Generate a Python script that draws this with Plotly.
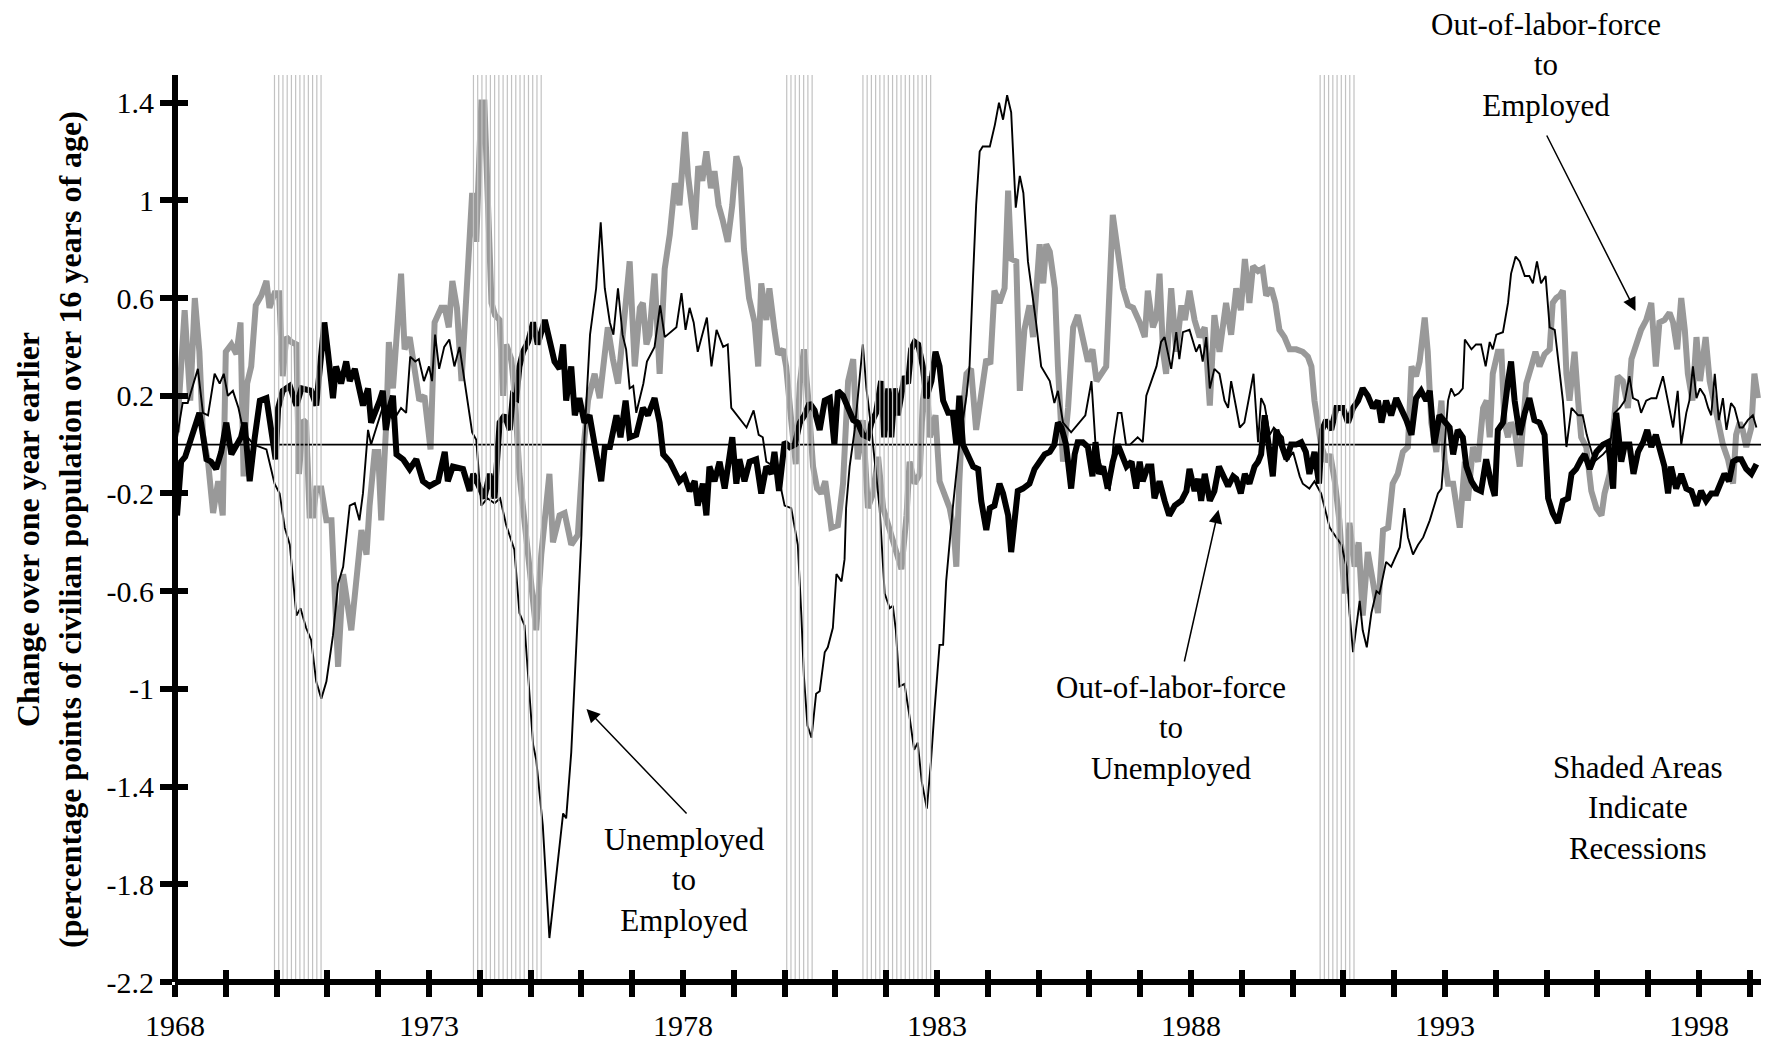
import plotly.graph_objects as go

# Year-over-year change in labour-market flows, percentage points of the
# civilian population 16+. Times are decimal years (mid-month).

# Unemployed -> Employed (thin black)
ue_t = [1968.04, 1968.15, 1968.25, 1968.45, 1968.55, 1968.65, 1968.78, 1968.88, 1968.96, 1969.04,
        1969.14, 1969.25, 1969.35, 1969.55, 1969.80, 1969.96, 1970.06, 1970.16, 1970.26, 1970.39,
        1970.47, 1970.58, 1970.68, 1970.78, 1970.88, 1970.98, 1971.11, 1971.21, 1971.31, 1971.44,
        1971.54, 1971.63, 1971.70, 1971.80, 1971.86, 1971.96, 1972.10, 1972.30, 1972.45, 1972.55,
        1972.63, 1972.73, 1972.80, 1972.90, 1973.00, 1973.06, 1973.12, 1973.20, 1973.30, 1973.40,
        1973.50, 1973.60, 1973.75, 1973.85, 1973.93, 1974.03, 1974.15, 1974.29, 1974.40, 1974.52,
        1974.68, 1974.78, 1974.88, 1975.05, 1975.11, 1975.24, 1975.37, 1975.64, 1975.70, 1975.80,
        1975.93, 1976.00, 1976.06, 1976.17, 1976.29, 1976.38, 1976.46, 1976.56, 1976.63, 1976.72,
        1976.81, 1976.88, 1976.95, 1977.02, 1977.08, 1977.22, 1977.29, 1977.44, 1977.55, 1977.64,
        1977.87, 1977.97, 1978.05, 1978.13, 1978.21, 1978.29, 1978.47, 1978.56, 1978.66, 1978.79,
        1978.88, 1978.95, 1979.25, 1979.39, 1979.49, 1979.57, 1979.64, 1979.80, 1979.90, 1980.00,
        1980.13, 1980.26, 1980.33, 1980.38, 1980.45, 1980.53, 1980.62, 1980.69, 1980.79, 1980.85,
        1980.95, 1981.02, 1981.12, 1981.18, 1981.21, 1981.28, 1981.38, 1981.46, 1981.54, 1981.61,
        1981.71, 1981.80, 1981.87, 1981.97, 1982.07, 1982.13, 1982.19, 1982.26, 1982.36, 1982.45,
        1982.55, 1982.62, 1982.70, 1982.80, 1982.88, 1982.95, 1983.05, 1983.12, 1983.18, 1983.31,
        1983.44, 1983.58, 1983.64, 1983.71, 1983.77, 1983.84, 1983.90, 1984.04, 1984.14, 1984.22,
        1984.30, 1984.38, 1984.46, 1984.55, 1984.63, 1984.70, 1984.79, 1984.95, 1985.05, 1985.22,
        1985.31, 1985.38, 1985.48, 1985.64, 1985.81, 1985.92, 1986.04, 1986.12, 1986.22, 1986.32,
        1986.40, 1986.48, 1986.56, 1986.63, 1986.72, 1986.80, 1986.95, 1987.05, 1987.12, 1987.22,
        1987.32, 1987.41, 1987.48, 1987.55, 1987.61, 1987.71, 1987.77, 1987.84, 1987.97, 1988.10,
        1988.17, 1988.23, 1988.30, 1988.37, 1988.46, 1988.56, 1988.66, 1988.73, 1988.79, 1988.89,
        1988.96, 1989.05, 1989.15, 1989.23, 1989.32, 1989.38, 1989.45, 1989.55, 1989.63, 1989.81,
        1989.88, 1990.01, 1990.14, 1990.20, 1990.33, 1990.43, 1990.56, 1990.66, 1990.73, 1990.86,
        1990.96, 1991.06, 1991.12, 1991.19, 1991.25, 1991.32, 1991.38, 1991.46, 1991.55, 1991.65,
        1991.71, 1991.84, 1991.94, 1992.11, 1992.20, 1992.27, 1992.37, 1992.47, 1992.57, 1992.70,
        1992.86, 1992.93, 1992.99, 1993.06, 1993.12, 1993.19, 1993.27, 1993.35, 1993.39, 1993.52,
        1993.61, 1993.71, 1993.80, 1993.88, 1993.94, 1994.01, 1994.14, 1994.24, 1994.30, 1994.39,
        1994.47, 1994.57, 1994.66, 1994.73, 1994.81, 1994.89, 1994.98, 1995.06, 1995.16, 1995.26,
        1995.32, 1995.39, 1995.49, 1995.62, 1995.71, 1995.79, 1995.94, 1996.11, 1996.24, 1996.34,
        1996.44, 1996.54, 1996.63, 1996.70, 1996.80, 1996.86, 1996.96, 1997.06, 1997.16, 1997.29,
        1997.39, 1997.49, 1997.58, 1997.65, 1997.75, 1997.81, 1997.88, 1997.95, 1998.02, 1998.11,
        1998.18, 1998.24, 1998.31, 1998.39, 1998.47, 1998.54, 1998.63, 1998.70, 1998.80, 1998.86,
        1998.96, 1999.06, 1999.13]
ue_v = [0.03, 0.17, 0.17, 0.31, 0.13, 0.12, 0.29, 0.25, 0.29, 0.20,
        0.22, 0.15, 0.05, 0.00, -0.02, -0.16, -0.20, -0.34, -0.41, -0.70,
        -0.67, -0.75, -0.80, -0.97, -1.04, -0.97, -0.78, -0.57, -0.50, -0.25,
        -0.24, -0.31, -0.20, 0.06, 0.00, 0.07, 0.16, 0.10, 0.15, 0.13,
        0.36, 0.34, 0.35, 0.26, 0.32, 0.26, 0.45, 0.31, 0.40, 0.43,
        0.32, 0.40, 0.20, 0.05, 0.02, -0.25, -0.22, -0.24, -0.22, -0.33,
        -0.43, -0.69, -0.74, -1.23, -1.29, -1.56, -2.02, -1.51, -1.53, -1.26,
        -0.69, -0.37, 0.03, 0.45, 0.64, 0.91, 0.64, 0.50, 0.45, 0.64,
        0.45, 0.39, 0.23, 0.24, 0.13, 0.25, 0.34, 0.40, 0.57, 0.44,
        0.48, 0.62, 0.47, 0.56, 0.50, 0.38, 0.52, 0.32, 0.47, 0.40,
        0.41, 0.15, 0.07, 0.14, 0.04, 0.03, -0.07, -0.09, -0.15, -0.25,
        -0.26, -0.41, -0.70, -0.95, -1.15, -1.20, -1.02, -1.01, -0.85, -0.83,
        -0.75, -0.53, -0.56, -0.47, -0.26, -0.09, 0.06, 0.23, 0.41, 0.23,
        0.06, -0.12, -0.26, -0.61, -0.67, -0.66, -0.76, -0.99, -0.98, -1.10,
        -1.25, -1.22, -1.38, -1.49, -1.30, -1.09, -0.82, -0.82, -0.56, -0.26,
        0.00, 0.20, 0.32, 0.69, 0.98, 1.20, 1.22, 1.22, 1.31, 1.40,
        1.33, 1.43, 1.36, 0.97, 1.10, 1.03, 0.75, 0.50, 0.32, 0.26,
        0.17, 0.22, 0.09, 0.05, 0.09, 0.12, 0.26, 0.00, -0.08, -0.15,
        -0.19, 0.02, 0.13, 0.13, 0.00, 0.00, 0.03, 0.01, 0.20, 0.26,
        0.32, 0.42, 0.44, 0.37, 0.31, 0.46, 0.35, 0.46, 0.47, 0.38,
        0.41, 0.34, 0.44, 0.23, 0.31, 0.29, 0.18, 0.15, 0.26, 0.15,
        0.07, 0.09, 0.20, 0.29, 0.01, 0.19, 0.16, 0.04, 0.07, 0.03,
        -0.07, -0.03, -0.13, -0.16, -0.18, -0.15, -0.20, -0.29, -0.34, -0.38,
        -0.41, -0.50, -0.69, -0.85, -0.75, -0.64, -0.76, -0.83, -0.69, -0.60,
        -0.61, -0.48, -0.50, -0.42, -0.26, -0.38, -0.45, -0.41, -0.38, -0.31,
        -0.20, -0.18, -0.01, 0.18, 0.23, 0.20, 0.21, 0.23, 0.43, 0.39,
        0.41, 0.41, 0.32, 0.42, 0.39, 0.45, 0.46, 0.58, 0.70, 0.77,
        0.75, 0.69, 0.69, 0.66, 0.75, 0.66, 0.69, 0.48, 0.47, 0.29,
        0.18, -0.01, 0.15, 0.12, 0.12, 0.04, -0.07, -0.04, -0.01, 0.13,
        0.15, 0.18, 0.28, 0.19, 0.18, 0.13, 0.18, 0.19, 0.19, 0.28,
        0.18, 0.07, 0.22, 0.00, 0.13, 0.18, 0.32, 0.19, 0.23, 0.20,
        0.15, 0.12, 0.29, 0.10, 0.19, 0.06, 0.17, 0.15, 0.07, 0.07,
        0.10, 0.12, 0.07]

# Out-of-labor-force -> Unemployed (thick black)
ou_t = [1968.04, 1968.12, 1968.20, 1968.32, 1968.48, 1968.55, 1968.62, 1968.71, 1968.81, 1968.91,
        1969.01, 1969.11, 1969.21, 1969.30, 1969.37, 1969.47, 1969.57, 1969.67, 1969.80, 1969.90,
        1969.98, 1970.03, 1970.12, 1970.26, 1970.39, 1970.49, 1970.68, 1970.78, 1970.88, 1970.94,
        1971.01, 1971.11, 1971.17, 1971.27, 1971.37, 1971.44, 1971.54, 1971.63, 1971.70, 1971.80,
        1971.86, 1972.03, 1972.09, 1972.15, 1972.22, 1972.29, 1972.36, 1972.49, 1972.62, 1972.75,
        1972.88, 1973.01, 1973.18, 1973.31, 1973.37, 1973.47, 1973.67, 1973.80, 1973.87, 1973.96,
        1974.09, 1974.19, 1974.29, 1974.39, 1974.49, 1974.59, 1974.65, 1974.72, 1974.78, 1974.85,
        1974.95, 1975.05, 1975.14, 1975.28, 1975.37, 1975.47, 1975.57, 1975.64, 1975.70, 1975.80,
        1975.87, 1975.96, 1976.06, 1976.16, 1976.26, 1976.39, 1976.46, 1976.56, 1976.69, 1976.77,
        1976.87, 1976.95, 1977.08, 1977.21, 1977.31, 1977.44, 1977.54, 1977.61, 1977.74, 1977.84,
        1977.93, 1978.03, 1978.13, 1978.23, 1978.29, 1978.39, 1978.46, 1978.52, 1978.62, 1978.72,
        1978.82, 1978.90, 1978.97, 1979.05, 1979.11, 1979.21, 1979.31, 1979.44, 1979.54, 1979.64,
        1979.74, 1979.80, 1979.89, 1980.00, 1980.10, 1980.20, 1980.30, 1980.39, 1980.49, 1980.59,
        1980.69, 1980.79, 1980.89, 1980.98, 1981.05, 1981.15, 1981.25, 1981.35, 1981.44, 1981.54,
        1981.64, 1981.71, 1981.80, 1981.90, 1981.96, 1982.04, 1982.10, 1982.17, 1982.23, 1982.30,
        1982.36, 1982.43, 1982.49, 1982.56, 1982.63, 1982.72, 1982.79, 1982.89, 1982.97, 1983.05,
        1983.12, 1983.22, 1983.31, 1983.38, 1983.44, 1983.51, 1983.61, 1983.71, 1983.81, 1983.87,
        1983.97, 1984.04, 1984.13, 1984.23, 1984.30, 1984.40, 1984.46, 1984.53, 1984.59, 1984.69,
        1984.82, 1984.92, 1985.02, 1985.12, 1985.22, 1985.31, 1985.38, 1985.45, 1985.54, 1985.64,
        1985.71, 1985.77, 1985.87, 1985.97, 1986.06, 1986.12, 1986.19, 1986.27, 1986.36, 1986.46,
        1986.56, 1986.63, 1986.73, 1986.83, 1986.92, 1986.99, 1987.05, 1987.15, 1987.22, 1987.28,
        1987.38, 1987.48, 1987.57, 1987.68, 1987.81, 1987.91, 1987.97, 1988.07, 1988.14, 1988.20,
        1988.27, 1988.37, 1988.46, 1988.55, 1988.63, 1988.73, 1988.83, 1988.89, 1988.98, 1989.06,
        1989.15, 1989.25, 1989.32, 1989.38, 1989.45, 1989.55, 1989.61, 1989.68, 1989.78, 1989.88,
        1989.97, 1990.07, 1990.17, 1990.26, 1990.33, 1990.43, 1990.52, 1990.58, 1990.66, 1990.76,
        1990.86, 1990.99, 1991.09, 1991.19, 1991.29, 1991.38, 1991.48, 1991.58, 1991.68, 1991.75,
        1991.84, 1991.94, 1992.04, 1992.14, 1992.24, 1992.34, 1992.43, 1992.53, 1992.63, 1992.70,
        1992.79, 1992.89, 1992.99, 1993.09, 1993.16, 1993.25, 1993.35, 1993.42, 1993.52, 1993.61,
        1993.71, 1993.81, 1993.91, 1993.98, 1994.04, 1994.14, 1994.24, 1994.30, 1994.37, 1994.47,
        1994.57, 1994.66, 1994.76, 1994.86, 1994.96, 1995.03, 1995.12, 1995.22, 1995.32, 1995.42,
        1995.49, 1995.58, 1995.68, 1995.75, 1995.85, 1995.98, 1996.11, 1996.21, 1996.31, 1996.37,
        1996.47, 1996.54, 1996.63, 1996.71, 1996.80, 1996.90, 1996.98, 1997.06, 1997.15, 1997.22,
        1997.32, 1997.39, 1997.45, 1997.55, 1997.65, 1997.75, 1997.85, 1997.95, 1998.04, 1998.14,
        1998.24, 1998.34, 1998.44, 1998.50, 1998.59, 1998.67, 1998.75, 1998.83, 1998.93, 1999.03,
        1999.13]
ou_v = [-0.29, -0.07, -0.05, 0.03, 0.13, 0.04, -0.06, -0.07, -0.10, -0.03,
        0.09, -0.04, 0.00, 0.03, 0.09, -0.15, 0.03, 0.18, 0.19, 0.06,
        -0.06, 0.15, 0.22, 0.24, 0.16, 0.23, 0.22, 0.16, 0.38, 0.50,
        0.38, 0.19, 0.32, 0.25, 0.34, 0.26, 0.31, 0.23, 0.16, 0.23,
        0.09, 0.18, 0.22, 0.06, 0.15, 0.20, -0.04, -0.06, -0.10, -0.06,
        -0.15, -0.17, -0.15, -0.03, -0.15, -0.09, -0.10, -0.19, -0.12, -0.16,
        -0.22, -0.12, -0.22, 0.09, 0.12, 0.06, 0.20, 0.19, 0.32, 0.38,
        0.42, 0.50, 0.41, 0.51, 0.44, 0.34, 0.31, 0.41, 0.18, 0.32,
        0.12, 0.19, 0.09, 0.12, 0.00, -0.15, -0.01, -0.01, 0.12, 0.03,
        0.18, 0.03, 0.04, 0.15, 0.12, 0.19, 0.09, -0.04, -0.07, -0.12,
        -0.15, -0.13, -0.19, -0.15, -0.25, -0.16, -0.29, -0.09, -0.15, -0.07,
        -0.18, -0.07, 0.03, -0.16, -0.06, -0.15, -0.07, -0.06, -0.20, -0.09,
        -0.12, -0.03, -0.19, 0.01, -0.01, 0.00, 0.09, 0.12, 0.17, 0.14,
        0.06, 0.18, 0.19, 0.00, 0.22, 0.20, 0.15, 0.10, 0.09, 0.04,
        0.03, 0.09, 0.13, 0.26, 0.03, 0.23, 0.03, 0.23, 0.12, 0.23,
        0.28, 0.25, 0.39, 0.42, 0.41, 0.32, 0.19, 0.26, 0.38, 0.32,
        0.18, 0.13, 0.13, 0.00, 0.20, 0.00, -0.04, -0.09, -0.10, -0.23,
        -0.35, -0.26, -0.25, -0.16, -0.20, -0.29, -0.44, -0.28, -0.19, -0.18,
        -0.16, -0.10, -0.07, -0.04, -0.03, 0.00, 0.09, 0.07, 0.00, -0.18,
        -0.04, 0.01, 0.01, -0.01, -0.13, 0.01, -0.12, -0.09, -0.18, -0.07,
        0.00, -0.04, -0.09, -0.07, -0.18, -0.07, -0.15, -0.09, -0.09, -0.22,
        -0.15, -0.23, -0.29, -0.25, -0.23, -0.19, -0.10, -0.19, -0.14, -0.23,
        -0.12, -0.23, -0.19, -0.09, -0.12, -0.17, -0.13, -0.14, -0.20, -0.12,
        -0.16, -0.09, -0.07, -0.04, 0.12, -0.07, -0.13, 0.06, -0.01, -0.06,
        0.00, 0.00, 0.01, -0.03, -0.12, -0.03, -0.16, 0.06, 0.10, 0.06,
        0.15, 0.15, 0.09, 0.15, 0.18, 0.23, 0.20, 0.15, 0.18, 0.09,
        0.18, 0.12, 0.19, 0.15, 0.10, 0.04, 0.19, 0.22, 0.18, 0.22,
        0.00, 0.12, 0.09, 0.07, -0.04, 0.06, 0.03, -0.09, -0.15, -0.18,
        -0.19, -0.06, -0.16, -0.21, 0.06, 0.09, 0.26, 0.34, 0.18, 0.04,
        0.13, 0.19, 0.10, 0.09, 0.04, -0.22, -0.28, -0.32, -0.23, -0.22,
        -0.12, -0.10, -0.06, -0.04, -0.10, -0.03, 0.00, 0.01, -0.18, 0.13,
        -0.07, 0.00, 0.00, -0.12, -0.03, 0.01, 0.06, -0.01, 0.04, -0.01,
        -0.09, -0.20, -0.09, -0.18, -0.12, -0.18, -0.19, -0.25, -0.19, -0.23,
        -0.20, -0.20, -0.15, -0.12, -0.15, -0.07, -0.06, -0.06, -0.10, -0.12,
        -0.08]

# Out-of-labor-force -> Employed (thick grey)
oe_t = [1968.04, 1968.19, 1968.30, 1968.39, 1968.48, 1968.55, 1968.65, 1968.75, 1968.85, 1968.94,
        1969.00, 1969.11, 1969.21, 1969.29, 1969.35, 1969.42, 1969.50, 1969.59, 1969.70, 1969.80,
        1969.86, 1969.96, 1970.05, 1970.12, 1970.19, 1970.29, 1970.39, 1970.44, 1970.52, 1970.58,
        1970.65, 1970.72, 1970.78, 1970.88, 1970.98, 1971.08, 1971.21, 1971.31, 1971.47, 1971.57,
        1971.67, 1971.77, 1971.83, 1971.93, 1972.00, 1972.06, 1972.16, 1972.21, 1972.29, 1972.45,
        1972.52, 1972.62, 1972.72, 1972.81, 1972.91, 1973.03, 1973.11, 1973.24, 1973.31, 1973.39,
        1973.46, 1973.55, 1973.64, 1973.72, 1973.85, 1973.93, 1974.03, 1974.09, 1974.16, 1974.23,
        1974.30, 1974.39, 1974.46, 1974.52, 1974.62, 1974.69, 1974.78, 1974.85, 1974.95, 1975.02,
        1975.11, 1975.21, 1975.37, 1975.44, 1975.57, 1975.67, 1975.80, 1975.93, 1976.03, 1976.13,
        1976.26, 1976.36, 1976.46, 1976.52, 1976.62, 1976.72, 1976.81, 1976.95, 1977.05, 1977.15,
        1977.21, 1977.28, 1977.34, 1977.44, 1977.54, 1977.64, 1977.74, 1977.84, 1977.93, 1978.04,
        1978.10, 1978.17, 1978.23, 1978.30, 1978.38, 1978.46, 1978.55, 1978.62, 1978.70, 1978.78,
        1978.88, 1978.97, 1979.05, 1979.12, 1979.20, 1979.30, 1979.41, 1979.48, 1979.54, 1979.64,
        1979.70, 1979.80, 1979.87, 1979.97, 1980.03, 1980.13, 1980.22, 1980.30, 1980.38, 1980.46,
        1980.56, 1980.64, 1980.72, 1980.80, 1980.92, 1981.05, 1981.15, 1981.25, 1981.35, 1981.44,
        1981.54, 1981.64, 1981.74, 1981.84, 1981.94, 1982.07, 1982.20, 1982.30, 1982.40, 1982.46,
        1982.56, 1982.66, 1982.72, 1982.79, 1982.86, 1982.97, 1983.05, 1983.15, 1983.25, 1983.33,
        1983.38, 1983.44, 1983.51, 1983.58, 1983.67, 1983.77, 1983.87, 1983.97, 1984.05, 1984.13,
        1984.23, 1984.33, 1984.40, 1984.46, 1984.56, 1984.63, 1984.72, 1984.82, 1984.89, 1985.02,
        1985.09, 1985.15, 1985.22, 1985.32, 1985.38, 1985.48, 1985.58, 1985.68, 1985.77, 1985.87,
        1985.97, 1986.06, 1986.14, 1986.33, 1986.46, 1986.56, 1986.66, 1986.76, 1986.86, 1986.99,
        1987.09, 1987.15, 1987.25, 1987.32, 1987.38, 1987.45, 1987.51, 1987.61, 1987.71, 1987.81,
        1987.88, 1987.97, 1988.07, 1988.17, 1988.27, 1988.37, 1988.46, 1988.56, 1988.69, 1988.79,
        1988.89, 1988.98, 1989.06, 1989.15, 1989.22, 1989.32, 1989.41, 1989.48, 1989.58, 1989.66,
        1989.74, 1989.84, 1989.94, 1990.07, 1990.20, 1990.30, 1990.37, 1990.43, 1990.50, 1990.56,
        1990.66, 1990.74, 1990.83, 1990.92, 1991.02, 1991.12, 1991.22, 1991.30, 1991.38, 1991.48,
        1991.58, 1991.68, 1991.78, 1991.88, 1991.97, 1992.07, 1992.17, 1992.27, 1992.34, 1992.43,
        1992.50, 1992.60, 1992.66, 1992.73, 1992.83, 1992.93, 1992.99, 1993.06, 1993.16, 1993.29,
        1993.39, 1993.45, 1993.55, 1993.65, 1993.75, 1993.82, 1993.88, 1993.94, 1994.04, 1994.11,
        1994.17, 1994.24, 1994.30, 1994.37, 1994.47, 1994.53, 1994.60, 1994.70, 1994.78, 1994.86,
        1994.96, 1995.06, 1995.12, 1995.19, 1995.26, 1995.32, 1995.39, 1995.45, 1995.55, 1995.62,
        1995.68, 1995.78, 1995.88, 1995.98, 1996.08, 1996.14, 1996.24, 1996.34, 1996.40, 1996.50,
        1996.60, 1996.67, 1996.76, 1996.86, 1996.96, 1997.06, 1997.15, 1997.22, 1997.32, 1997.42,
        1997.49, 1997.57, 1997.65, 1997.72, 1997.78, 1997.87, 1997.95, 1998.02, 1998.13, 1998.21,
        1998.29, 1998.37, 1998.47, 1998.57, 1998.67, 1998.73, 1998.80, 1998.86, 1998.93, 1999.03,
        1999.09, 1999.16]
oe_v = [0.05, 0.55, 0.18, 0.60, 0.38, 0.04, -0.07, -0.28, -0.15, -0.29,
        0.38, 0.41, 0.37, 0.50, -0.13, 0.25, 0.32, 0.57, 0.61, 0.67,
        0.56, 0.62, 0.62, 0.28, 0.44, 0.42, 0.41, -0.12, 0.10, 0.09,
        -0.29, -0.29, -0.18, -0.18, -0.31, -0.31, -0.91, -0.53, -0.76, -0.58,
        -0.35, -0.45, -0.25, -0.03, -0.03, -0.31, 0.09, 0.42, 0.23, 0.70,
        0.39, 0.44, 0.29, 0.18, 0.20, -0.02, 0.50, 0.56, 0.56, 0.48,
        0.67, 0.56, 0.26, 0.55, 1.03, 0.83, 1.40, 1.40, 0.95, 0.58,
        0.53, 0.51, 0.20, 0.41, 0.35, 0.20, -0.12, -0.26, -0.41, -0.55,
        -0.76, -0.45, -0.12, -0.40, -0.29, -0.28, -0.41, -0.37, -0.04, 0.18,
        0.29, 0.19, 0.38, 0.48, 0.35, 0.25, 0.44, 0.75, 0.32, 0.56,
        0.58, 0.41, 0.45, 0.70, 0.29, 0.72, 0.86, 1.07, 0.98, 1.28,
        1.10, 0.95, 0.88, 1.14, 1.08, 1.20, 1.05, 1.12, 0.98, 0.92,
        0.83, 0.98, 1.18, 1.13, 0.80, 0.60, 0.50, 0.32, 0.66, 0.51,
        0.64, 0.47, 0.37, 0.39, 0.32, 0.10, -0.08, 0.25, 0.39, 0.20,
        -0.09, -0.18, -0.20, -0.15, -0.34, -0.33, -0.16, 0.26, 0.35, -0.06,
        0.10, -0.26, -0.20, -0.05, -0.26, -0.35, -0.45, -0.51, -0.29, -0.07,
        -0.16, -0.12, 0.18, 0.28, 0.03, 0.12, -0.15, -0.20, -0.26, -0.35,
        -0.50, -0.15, 0.15, 0.29, 0.31, 0.06, 0.22, 0.35, 0.33, 0.63,
        0.58, 0.64, 1.04, 0.76, 0.75, 0.22, 0.47, 0.57, 0.44, 0.82,
        0.66, 0.82, 0.79, 0.64, 0.32, -0.07, 0.15, 0.48, 0.53, 0.44,
        0.34, 0.39, 0.26, 0.32, 0.94, 0.79, 0.64, 0.57, 0.56, 0.50,
        0.44, 0.63, 0.48, 0.52, 0.70, 0.38, 0.29, 0.64, 0.38, 0.57,
        0.51, 0.63, 0.51, 0.44, 0.48, 0.16, 0.53, 0.38, 0.58, 0.45,
        0.64, 0.55, 0.76, 0.58, 0.73, 0.71, 0.72, 0.61, 0.64, 0.58,
        0.47, 0.44, 0.39, 0.39, 0.38, 0.36, 0.32, 0.18, 0.09, 0.00,
        -0.07, -0.04, -0.15, -0.31, -0.61, -0.32, -0.50, -0.40, -0.70, -0.44,
        -0.56, -0.69, -0.35, -0.34, -0.16, -0.12, -0.03, -0.01, 0.32, 0.28,
        0.34, 0.52, 0.38, 0.09, -0.03, 0.18, -0.06, -0.16, -0.16, -0.34,
        -0.07, -0.23, -0.01, -0.07, 0.15, 0.18, 0.03, 0.29, 0.38, 0.38,
        0.09, 0.03, 0.09, 0.06, -0.09, 0.06, 0.25, 0.32, 0.38, 0.32,
        0.37, 0.39, 0.58, 0.60, 0.61, 0.63, 0.29, 0.18, 0.38, 0.18,
        0.03, -0.01, -0.19, -0.26, -0.29, -0.20, -0.12, 0.13, 0.28, 0.26,
        0.15, 0.35, 0.41, 0.47, 0.51, 0.58, 0.32, 0.50, 0.51, 0.54,
        0.50, 0.39, 0.60, 0.47, 0.29, 0.18, 0.44, 0.26, 0.44, 0.26,
        0.18, 0.09, 0.00, -0.06, -0.16, 0.04, 0.09, 0.06, -0.01, 0.07,
        0.29, 0.19]

# NBER recessions (first and last month)
recessions = [((1969, 12), (1970, 11)), ((1973, 11), (1975, 3)), ((1980, 1), (1980, 7)),
              ((1981, 7), (1982, 11)), ((1990, 7), (1991, 3))]

year_ticks = list(range(1968, 2000))
year_labels = [str(y) if (y - 1968) % 5 == 0 else "" for y in year_ticks]
value_ticks = [-2.2, -1.8, -1.4, -1.0, -0.6, -0.2, 0.2, 0.6, 1.0, 1.4]
value_labels = ["-2.2", "-1.8", "-1.4", "-1", "-0.6", "-0.2", "0.2", "0.6", "1", "1.4"]

X_RANGE = [1968.0, 1999.22]
Y_RANGE = [-2.2, 1.513]
SERIF = "Liberation Serif, Times New Roman, serif"
PLOT_L, PLOT_W, PLOT_B, PLOT_H = 175, 1586, 63, 907

fig = go.Figure()

fig.add_trace(go.Scatter(x=oe_t, y=oe_v, mode="lines", name="Out-of-labor-force to Employed",
                         line=dict(color="#999999", width=6)))
fig.add_trace(go.Scatter(x=X_RANGE, y=[0, 0], mode="lines", hoverinfo="skip",
                         line=dict(color="black", width=1.6), showlegend=False))
fig.add_trace(go.Scatter(x=ou_t, y=ou_v, mode="lines", name="Out-of-labor-force to Unemployed",
                         line=dict(color="black", width=6)))
fig.add_trace(go.Scatter(x=ue_t, y=ue_v, mode="lines", name="Unemployed to Employed",
                         line=dict(color="black", width=1.9)))

# recession months: one thin vertical rule per month, drawn over the series
rx, ry = [], []
for (y0, m0), (y1, m1) in recessions:
    y, m = y0, m0
    while (y, m) <= (y1, m1):
        c = y + (m - 0.5) / 12
        rx += [c, c, None]
        ry += [Y_RANGE[0], Y_RANGE[1], None]
        m += 1
        if m > 12:
            y, m = y + 1, 1
fig.add_trace(go.Scatter(x=rx, y=ry, mode="lines", xaxis="x2", yaxis="y2", hoverinfo="skip",
                         line=dict(color="#c2c2c2", width=1.2), showlegend=False))

axis_common = dict(showgrid=False, zeroline=False, anchor="free", position=0, automargin=False)
fig.update_layout(
    width=1780, height=1045, autosize=False,
    margin=dict(l=PLOT_L, r=1780 - PLOT_L - PLOT_W, t=1045 - PLOT_B - PLOT_H, b=PLOT_B,
                autoexpand=False),
    paper_bgcolor="white", plot_bgcolor="white",
    showlegend=False,
    font=dict(family=SERIF, color="black", size=30),
    xaxis=dict(range=X_RANGE, tickmode="array", tickvals=year_ticks, ticktext=year_labels,
               showline=True, linewidth=6, linecolor="black",
               ticks="outside", ticklen=12, tickwidth=6, tickcolor="black",
               ticklabelstandoff=3,
               tickfont=dict(family=SERIF, size=30), **axis_common),
    yaxis=dict(range=Y_RANGE, tickmode="array", tickvals=value_ticks, ticktext=value_labels,
               showline=True, linewidth=6, linecolor="black",
               ticks="outside", ticklen=12, tickwidth=6, tickcolor="black",
               tickfont=dict(family=SERIF, size=30), **axis_common),
    xaxis2=dict(range=X_RANGE, overlaying="x", tickmode="array", tickvals=year_ticks,
                showticklabels=False, showline=False,
                ticks="inside", ticklen=12, tickwidth=6, tickcolor="black", **axis_common),
    yaxis2=dict(range=Y_RANGE, overlaying="y", tickmode="array", tickvals=value_ticks,
                showticklabels=False, showline=False,
                ticks="inside", ticklen=12, tickwidth=6, tickcolor="black", **axis_common),
)


def px_to_paper(px, py):
    """Page pixel position -> paper coordinates of the plot area."""
    return (px - PLOT_L) / PLOT_W, (1045 - PLOT_B - py) / PLOT_H


label_font = dict(family=SERIF, size=31, color="black")
notes = [
    ((1546, 65), "Out-of-labor-force<br>to<br>Employed"),
    ((1171, 728), "Out-of-labor-force<br>to<br>Unemployed"),
    ((684, 880), "Unemployed<br>to<br>Employed"),
    ((1638, 808), "Shaded Areas<br>Indicate<br>Recessions"),
]
for (px, py), text in notes:
    x, y = px_to_paper(px, py)
    fig.add_annotation(x=x, y=y, xref="paper", yref="paper", text=text, showarrow=False,
                       xanchor="center", yanchor="middle", align="center", font=label_font)

# arrows point at the series they name (tail in page pixels, head in data units)
arrows = [
    ((1546, 134), (1996.75, 0.547)),
    ((1184, 663), (1988.54, -0.267)),
    ((688, 815), (1976.10, -1.082)),
]
for (tx, ty), (hx, hy) in arrows:
    ax_, ay_ = px_to_paper(tx, ty)
    fig.add_annotation(x=hx, y=hy, xref="x", yref="y",
                       ax=X_RANGE[0] + ax_ * (X_RANGE[1] - X_RANGE[0]),
                       ay=Y_RANGE[0] + ay_ * (Y_RANGE[1] - Y_RANGE[0]),
                       axref="x", ayref="y",
                       text="", showarrow=True, arrowhead=2, arrowsize=1.8, arrowwidth=1.5,
                       arrowcolor="black", standoff=0)

tx, ty = px_to_paper(49, 530)
fig.add_annotation(
    x=tx, y=ty, xref="paper", yref="paper", textangle=-90,
    text="<b>Change over one year earlier</b><br><b>(percentage points of civilian population over 16 years of age)</b>",
    showarrow=False, xanchor="center", yanchor="middle", align="center",
    font=dict(family=SERIF, size=32, color="black"))

fig.write_html("out.html", config={"displayModeBar": False})
